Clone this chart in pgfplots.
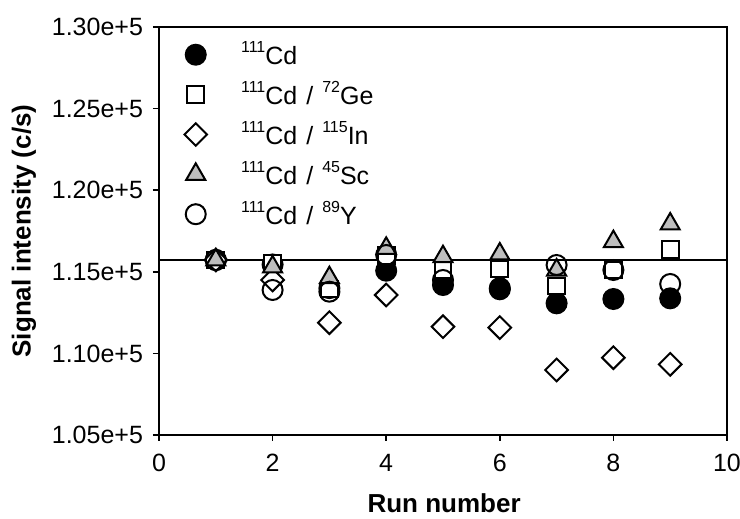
\documentclass[border=0pt]{standalone}
\usepackage{pgfplots}
\pgfplotsset{compat=1.18}
\usepackage{fontspec}
\setmainfont{Liberation Sans}
\definecolor{trigray}{RGB}{190,190,190}
\newcommand{\sups}[1]{\raisebox{6.2pt}{\fontsize{8}{9}\selectfont #1}}
\newcommand{\legsep}{\hspace{4.5pt}/\hspace{4.5pt}}
\begin{document}
\begin{tikzpicture}
\path[use as bounding box] (-79.5pt,-42pt) rectangle (290.5pt,217.5pt);
\begin{axis}[
  at={(0pt,0pt)}, anchor=south west,
  scale only axis, width=284pt, height=204pt,
  xmin=0, xmax=10, ymin=105000, ymax=130000,
  xtick={0,2,...,10},
  ytick={105000,110000,115000,120000,125000,130000},
  yticklabels={1.05e+5,1.10e+5,1.15e+5,1.20e+5,1.25e+5,1.30e+5},
  scaled y ticks=false,
  tick align=outside, xtick pos=bottom, ytick pos=left,
  major tick length=3pt,
  axis line style={line width=0.8pt},
  tick style={line width=0.8pt, black},
  /pgf/number format/assume math mode=true,
  tick label style={font=\fontsize{12.5}{15}\selectfont},
  xticklabel style={yshift=-3pt},
  yticklabel style={xshift=-1.5pt},
  label style={font=\bfseries\fontsize{13}{15}\selectfont},
  xlabel={Run number}, ylabel={Signal intensity (c/s)},
  xlabel style={at={(axis description cs:0.502,-0.1667)}, anchor=center},
  ylabel style={at={(axis description cs:-0.2377,0.5)}, anchor=center},
  legend cell align=left,
  legend style={at={(axis description cs:0.0335,0.985)}, anchor=north west,
    draw=none, fill=none, font=\fontsize{12.5}{15}\selectfont, row sep=2.7pt, column sep=15pt},
]
\addplot[black, line width=1pt, forget plot] coordinates {(0,115723)(10,115723)};
\addplot[only marks, mark=*, mark size=5pt, mark options={black, fill=black, line width=1pt}]
 coordinates {(1,115723)(2,115450)(3,114000)(4,115067)(5,114191)(6,113928)(7,113068)(8,113333)(9,113374)};
\addlegendentry{\sups{111}Cd}
\addplot[only marks, mark=square*, mark size=4.2pt, mark options={draw=black, fill=white, line width=1pt}]
 coordinates {(1,115723)(2,115521)(3,113950)(4,115980)(5,115110)(6,115171)(7,114130)(8,115110)(9,116378)};
\addlegendentry{\sups{111}Cd\legsep\sups{72}Ge}
\addplot[only marks, mark=square*, mark size=4pt, mark options={draw=black, fill=white, line width=1pt, rotate=45}]
 coordinates {(1,115723)(2,114498)(3,111881)(4,113578)(5,111637)(6,111581)(7,108983)(8,109737)(9,109329)};
\addlegendentry{\sups{111}Cd\legsep\sups{115}In}
\addplot[only marks, mark=triangle*, mark size=5.5pt, mark options={draw=black, fill=trigray, line width=1pt}]
 coordinates {(1,115723)(2,115300)(3,114639)(4,116440)(5,115925)(6,116091)(7,115110)(8,116848)(9,117929)};
\addlegendentry{\sups{111}Cd\legsep\sups{45}Sc}
\addplot[only marks, mark=o, mark size=5pt, mark options={draw=black, line width=1pt}]
 coordinates {(1,115723)(2,113885)(3,113781)(4,116029)(5,114498)(6,114000)(7,115417)(8,115110)(9,114253)};
\addlegendentry{\sups{111}Cd\legsep\sups{89}Y}
\end{axis}
\end{tikzpicture}
\end{document}
